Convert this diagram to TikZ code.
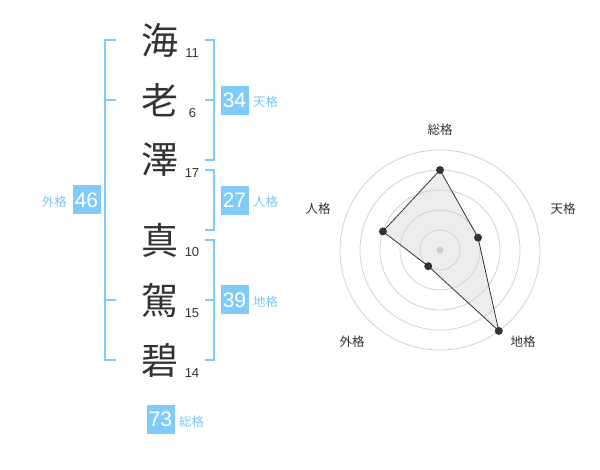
\documentclass[tikz,border=0pt]{standalone}
\usepackage{fontspec}
\usetikzlibrary{calc}
\setmainfont{Liberation Sans}
\newfontfamily\jp{Noto Sans CJK JP}
\definecolor{boxblue}{HTML}{80CBF7}
\definecolor{lblblue}{HTML}{7EC6F0}
\definecolor{ink}{HTML}{333333}
\definecolor{ring}{HTML}{CCCCCC}
\tikzset{
  kanji/.style={font=\jp\fontsize{37}{37}\selectfont, text=ink, inner sep=0pt},
  stroke/.style={font=\fontsize{13}{13}\selectfont, text=ink, inner sep=0pt},
  numbox/.style={fill=boxblue, text=white, minimum width=28pt, minimum height=29pt, inner sep=0pt, font=\fontsize{21}{21}\selectfont},
  kaku/.style={font=\jp\fontsize{12.5}{12.5}\selectfont, text=lblblue, inner sep=0pt},
  brk/.style={draw=boxblue, line width=1.6pt},
  axislbl/.style={font=\jp\fontsize{12.5}{12.5}\selectfont, text=ink, inner sep=0pt},
  dot/.style={circle, fill=ink, minimum size=8pt, inner sep=0pt},
  ringc/.style={draw=ring, line width=0.7pt},
}
\begin{document}
\begin{tikzpicture}[x=1pt,y=-1pt]
\useasboundingbox (0,0) rectangle (600,470);
% kanji
\node[kanji] (k1) at (160,40) {海};
\node[kanji] (k2) at (160,100) {老};
\node[kanji] (k3) at (160,160) {澤};
\node[kanji] (k4) at (160,240) {真};
\node[kanji] (k5) at (160,300) {駕};
\node[kanji] (k6) at (160,360) {碧};
\node[stroke] (s1) at (192,53) {11};
\node[stroke] (s2) at (192.5,113) {6};
\node[stroke] (s3) at (192,173) {17};
\node[stroke] (s4) at (192,252.5) {10};
\node[stroke] (s5) at (192,313) {15};
\node[stroke] (s6) at (192,373) {14};
% left bracket (gaikaku)
\draw[brk] (116,40) -- (105,40) -- (105,360) -- (116,360);
\draw[brk] (105,100) -- (116,100);
\draw[brk] (105,300) -- (116,300);
% right brackets
\draw[brk] (205,40) -- (214,40) -- (214,160) -- (205,160);
\draw[brk] (205,100) -- (214,100);
\draw[brk] (205,170) -- (214,170) -- (214,230) -- (205,230);
\draw[brk] (205,240) -- (214,240) -- (214,360) -- (205,360);
\draw[brk] (205,300) -- (214,300);
% boxes and labels
\node[numbox] (b46) at (86.5,200) {46};
\node[kaku, anchor=east] (l46) at (67,202) {外格};
\node[numbox] (b34) at (234.5,100.5) {34};
\node[kaku, anchor=west] (l34) at (253,102) {天格};
\node[numbox] (b27) at (234.5,200.5) {27};
\node[kaku, anchor=west] (l27) at (253,202) {人格};
\node[numbox] (b39) at (234.5,300) {39};
\node[kaku, anchor=west] (l39) at (253,302) {地格};
\node[numbox] (b73) at (160.5,419.5) {73};
\node[kaku, anchor=west] (l73) at (179,422) {総格};
% radar chart
\coordinate (c) at (440,250);
\foreach \r in {20,40,60,80,100} \draw[ringc] (c) circle (\r);
\fill[ring] (c) circle (3.5);
\coordinate (pS) at ($(c)+(0,-80)$);
\coordinate (pT) at ($(c)+({40*cos(18)},{-40*sin(18)})$);
\coordinate (pC) at ($(c)+({100*cos(54)},{100*sin(54)})$);
\coordinate (pG) at ($(c)+({-20*cos(54)},{20*sin(54)})$);
\coordinate (pJ) at ($(c)+({-60*cos(18)},{-60*sin(18)})$);
\fill[black!20, opacity=0.35] (pS) -- (pT) -- (pC) -- (pG) -- (pJ) -- cycle;
\draw[ink, line width=0.8pt] (pS) -- (pT) -- (pC) -- (pG) -- (pJ) -- cycle;
\foreach \p in {pS,pT,pC,pG,pJ} \node[dot] at (\p) {};
\node[axislbl] (aS) at (440,130) {総格};
\node[axislbl] (aT) at (563,209) {天格};
\node[axislbl] (aC) at (523,342) {地格};
\node[axislbl] (aG) at (352,342) {外格};
\node[axislbl] (aJ) at (318,209) {人格};
\end{tikzpicture}
\end{document}
